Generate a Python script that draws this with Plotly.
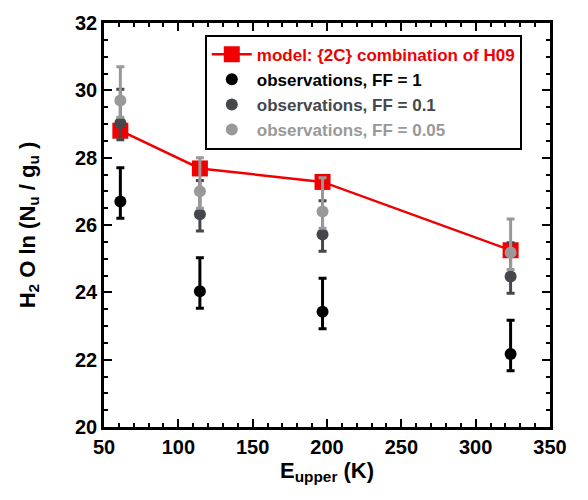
import plotly.graph_objects as go

# Upper-level energies of the H2O transitions (K)
e_upper = [61, 114.5, 197, 323.5]

# Model: {2C} combination of H09
model_vals = [28.8, 27.68, 27.28, 25.25]

# Observed column densities for three filling factors
obs_ff1 = [26.7, 24.03, 23.42, 22.17]
obs_ff01 = [29.03, 26.32, 25.72, 24.47]
obs_ff005 = [29.7, 27.0, 26.4, 25.18]

# Asymmetric uncertainties (upper / lower)
err_plus = [1.0, 1.0, 1.0, 1.0]
err_minus = [0.5, 0.5, 0.5, 0.5]

RED = "#f00000"
BLACK = "#000000"
DARK = "#45474b"
LIGHT = "#999999"

FONT = "Liberation Sans, Arial, Helvetica, sans-serif"

fig = go.Figure()

fig.add_trace(go.Scatter(
    x=e_upper, y=model_vals, mode="lines+markers",
    name=f"<span style='color:{RED}'>model: {{2C}} combination of H09</span>",
    line=dict(color=RED, width=2.5),
    marker=dict(symbol="square", size=16, color=RED),
))

for vals, col, label in [
    (obs_ff1, BLACK, "observations, FF = 1"),
    (obs_ff01, DARK, "observations, FF = 0.1"),
    (obs_ff005, LIGHT, "observations, FF = 0.05"),
]:
    fig.add_trace(go.Scatter(
        x=e_upper, y=vals, mode="markers",
        name=f"<span style='color:{col}'>{label}</span>",
        marker=dict(symbol="circle", size=12, color=col),
        error_y=dict(type="data", symmetric=False, array=err_plus,
                     arrayminus=err_minus, color=col, thickness=3, width=4),
    ))

axis_common = dict(
    showline=True, linecolor="black", linewidth=2.5, mirror="allticks",
    ticks="inside", ticklen=8, tickwidth=2, tickcolor="black",
    showgrid=False, zeroline=False,
    tickfont=dict(family=FONT, size=20, color="black", weight="bold"),
)

fig.update_xaxes(
    range=[50, 350], dtick=50, tick0=50,
    minor=dict(ticks="inside", ticklen=4, tickwidth=2, dtick=10, tickcolor="black"),
    title=dict(text="E<sub>upper</sub> (K)",
               font=dict(family=FONT, size=22, color="black", weight="bold"),
               standoff=6),
    **axis_common,
)
fig.update_yaxes(
    range=[20, 32], dtick=2, tick0=20,
    minor=dict(ticks="inside", ticklen=4, tickwidth=2, dtick=0.5, tickcolor="black"),
    title=dict(text="H<sub>2</sub> O ln (N<sub>u</sub> / g<sub>u</sub> )",
               font=dict(family=FONT, size=22, color="black", weight="bold"),
               standoff=34),
    **axis_common,
)

fig.update_layout(
    width=588, height=500,
    margin=dict(l=104, r=38, t=19, b=73),
    paper_bgcolor="white", plot_bgcolor="white",
    showlegend=True,
    legend=dict(
        x=0.226, y=0.971, xanchor="left", yanchor="top",
        bordercolor="black", borderwidth=2, bgcolor="white",
        font=dict(family=FONT, size=17, color="black", weight="bold"),
        itemwidth=40, tracegroupgap=0,
    ),
)

fig.write_html("out.html")
